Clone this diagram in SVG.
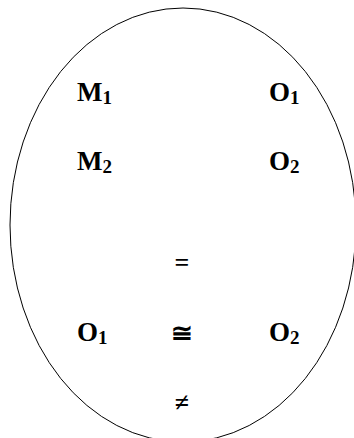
<svg xmlns="http://www.w3.org/2000/svg" width="354" height="438" viewBox="0 0 354 438">
<style>
.t{font-family:"Liberation Serif","Times New Roman",serif;font-weight:bold;font-size:27px;fill:#000}
.s{font-size:19px}
.op{font-family:"Liberation Serif","DejaVu Serif",serif;font-weight:bold;font-size:26px;fill:#000;text-anchor:middle}
</style>
<rect width="354" height="438" fill="#fff"/>
<g id="boundary"><ellipse cx="183" cy="225" rx="173" ry="217" fill="none" stroke="#000" stroke-width="1"/></g>
<g id="M1"><text class="t" x="77" y="100.5">M<tspan class="s" dy="3">1</tspan></text></g>
<g id="O1_top"><text class="t" x="269" y="100.5">O<tspan class="s" dy="3">1</tspan></text></g>
<g id="M2"><text class="t" x="77" y="170">M<tspan class="s" dy="3">2</tspan></text></g>
<g id="O2_top"><text class="t" x="269" y="170">O<tspan class="s" dy="3">2</tspan></text></g>
<g id="eq"><text class="op" x="182" y="271">=</text></g>
<g id="O1_bottom"><text class="t" x="77" y="341">O<tspan class="s" dy="3">1</tspan></text></g>
<g id="cong"><text class="op" x="182" y="342">≅</text></g>
<g id="O2_bottom"><text class="t" x="269" y="341">O<tspan class="s" dy="3">2</tspan></text></g>
<g id="neq"><text class="op" x="182" y="411">≠</text></g>
<g id="connectors"/>
</svg>
